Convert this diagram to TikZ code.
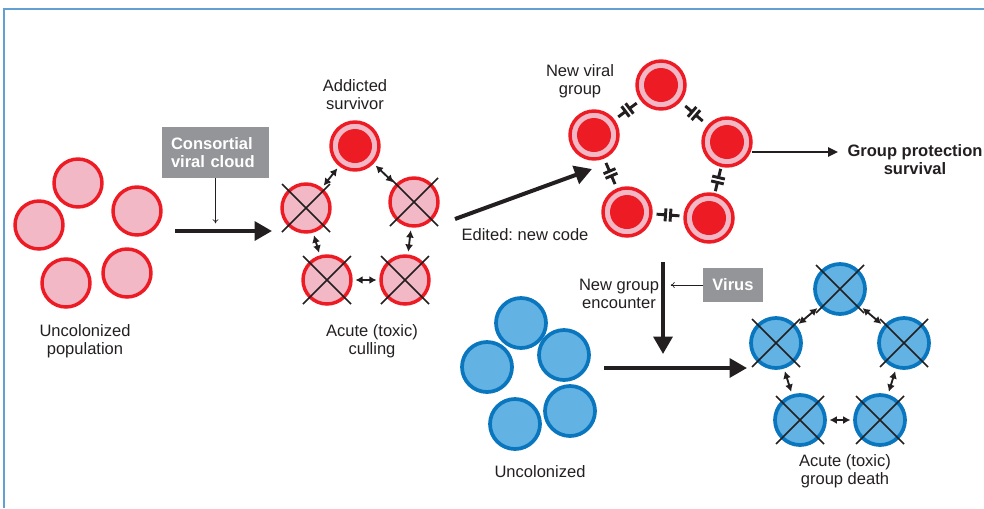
\documentclass[tikz,border=0pt]{standalone}
\usepackage{fontspec}
\setmainfont{Liberation Sans}
\usetikzlibrary{arrows.meta,decorations.markings}

\definecolor{cellred}{HTML}{ED1C24}
\definecolor{cellpink}{HTML}{F3B8C6}
\definecolor{cellblue}{HTML}{62B2E4}
\definecolor{rimblue}{HTML}{0A76BE}
\definecolor{boxgray}{HTML}{939598}
\definecolor{frameblue}{HTML}{62A0D2}
\definecolor{ink}{HTML}{231F20}

\tikzset{
  pinkcell/.style={circle,draw=cellred,fill=cellpink,line width=2.6pt,minimum size=36pt,inner sep=0pt},
  redcell/.style={pinkcell,path picture={\fill[cellred] (path picture bounding box.center) circle (12.75pt);}},
  bluecell/.style={circle,draw=rimblue,fill=cellblue,line width=2.8pt,minimum size=37.5pt,inner sep=0pt},
  dbl/.style={{Latex[length=5.5pt,width=6pt]}-{Latex[length=5.5pt,width=6pt]},line width=1.4pt,draw=ink,shorten <=2pt,shorten >=2pt},
  bigarrow/.style={-{Triangle[length=13pt,width=14pt]},line width=3pt,draw=ink},
  midarrow/.style={-{Triangle[length=7.5pt,width=7pt]},line width=1.5pt,draw=ink},
  thinarrow/.style={-{To[length=3pt,width=4.5pt]},line width=0.5pt,draw=ink},
  graybox/.style={fill=boxgray,text=white,font=\fontsize{12.4}{13.5}\selectfont\bfseries,inner sep=0pt},
  lbl/.style={font=\fontsize{12.4}{13.5}\selectfont,align=center,text=ink,inner sep=0pt},
  blocker/.style={decoration={markings,mark=at position 0.5 with {\draw[line width=2.2pt,ink] (-11.5,0) -- (-2.5,0) (-2.5,-6.5) -- (-2.5,6.5) (2.5,-6.5) -- (2.5,6.5) (2.5,0) -- (11.5,0);}},decorate},
  crossline/.style={line width=1.1pt,draw=ink},
  framebar/.style={line width=1.4pt,draw=frameblue}
}

\begin{document}
\frenchspacing
\begin{tikzpicture}[x=0.75pt,y=-0.75pt]
\useasboundingbox (0,0) rectangle (984,508);
\draw[framebar] (3,9) -- (984,9);
\draw[framebar] (4,9) -- (4,508);

\node[pinkcell] (g1t) at (78,183) {};
\node[pinkcell] (g1l) at (39,225) {};
\node[pinkcell] (g1r) at (137,211) {};
\node[pinkcell] (g1bl) at (66,283) {};
\node[pinkcell] (g1br) at (127,273) {};
\node[lbl] (pop) at (85,341) {Uncolonized\\population};

\node[graybox,minimum width=80.25pt,minimum height=38.25pt,text width=66.75pt,align=left] (cvc) at (215.5,152.5) {Consortial\\viral cloud};
\coordinate (a1s) at (175,231);
\coordinate (a1e) at (272,231);
\draw[bigarrow] (a1s) -- (a1e);
\draw[thinarrow] (cvc.south) -- ++(0,45);

\node[redcell] (g2t) at (355,146) {};
\node[pinkcell] (g2l) at (306,208) {};
\node[pinkcell] (g2r) at (414,202) {};
\node[pinkcell] (g2bl) at (327,280) {};
\node[pinkcell] (g2br) at (405,280) {};
\foreach \a/\b in {g2t/g2l,g2t/g2r,g2l/g2bl,g2r/g2br,g2bl/g2br}
\draw[dbl] (\a) -- (\b);
\node[lbl] (surv) at (355,95) {Addicted\\survivor};
\node[lbl] (cull) at (372,341) {Acute (toxic)\\culling};

\coordinate (a2s) at (455,219);
\coordinate (a2e) at (592,169);
\draw[bigarrow] (a2s) -- (a2e);
\node[lbl] (edit) at (525,235) {Edited: new code};

\node[redcell] (g3t) at (661,85) {};
\node[redcell] (g3l) at (594,135) {};
\node[redcell] (g3r) at (727,142) {};
\node[redcell] (g3bl) at (627,212) {};
\node[redcell] (g3br) at (709,218) {};
\foreach \a/\b in {g3l/g3t,g3t/g3r,g3r/g3br,g3bl/g3br,g3l/g3bl}
\path[blocker] (\a) -- (\b);
\node[lbl] (nvg) at (580,81) {New viral\\group};

\coordinate (a3s) at (752,152);
\coordinate (a3e) at (838,152);
\draw[midarrow] (a3s) -- (a3e);
\node[lbl,font=\fontsize{12.4}{13.5}\selectfont\bfseries] (prot) at (915,160) {Group protection\\survival};

\coordinate (a4s) at (663,262);
\coordinate (a4e) at (663,354);
\draw[bigarrow] (a4s) -- (a4e);
\node[lbl] (enc) at (619,294) {New group\\encounter};
\node[graybox,minimum width=45pt,minimum height=25.5pt] (vir) at (733,285) {Virus};
\draw[thinarrow] (vir.west) -- ++(-32,0);

\node[bluecell] (g4t) at (521,323) {};
\node[bluecell] (g4l) at (487,367) {};
\node[bluecell] (g4r) at (564,355) {};
\node[bluecell] (g4bl) at (515,424) {};
\node[bluecell] (g4br) at (570,411) {};
\node[lbl] (unc) at (540,472) {Uncolonized};

\coordinate (a5s) at (604,368);
\coordinate (a5e) at (747,368);
\draw[bigarrow] (a5s) -- (a5e);

\node[bluecell] (g5t) at (840,289) {};
\node[bluecell] (g5l) at (776,343) {};
\node[bluecell] (g5r) at (904,343) {};
\node[bluecell] (g5bl) at (800,420) {};
\node[bluecell] (g5br) at (880,420) {};
\foreach \a/\b in {g5t/g5l,g5t/g5r,g5l/g5bl,g5r/g5br,g5bl/g5br}
\draw[dbl] (\a) -- (\b);
\node[lbl] (death) at (845,471) {Acute (toxic)\\group death};

\foreach \c in {g2l,g2r,g2bl,g2br,g5t,g5l,g5r,g5bl,g5br}
\draw[crossline] (\c.center) ++(-24,-24) -- ++(48,48) ++(0,-48) -- ++(-48,48);
\end{tikzpicture}
\end{document}
